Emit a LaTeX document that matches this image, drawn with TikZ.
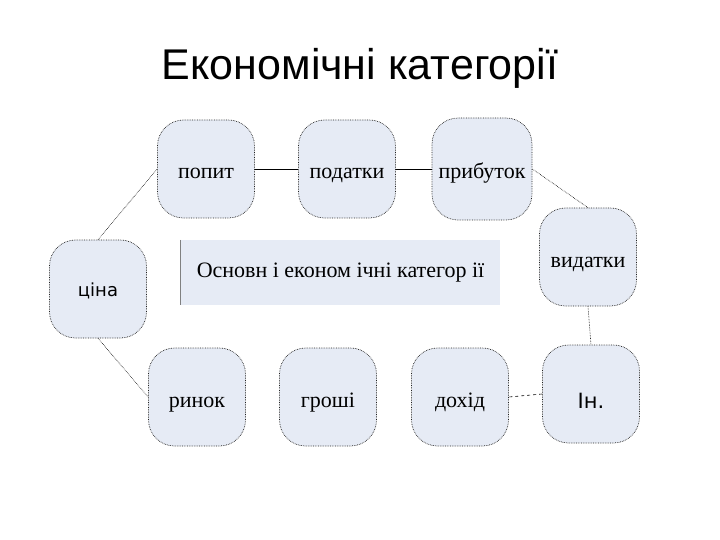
\documentclass[tikz,border=0pt]{standalone}
\usepackage{fontspec}
\setmainfont{Liberation Serif}
\newfontfamily\sansf{Liberation Sans}
\newfontfamily\dsans{DejaVu Sans}
\definecolor{boxfill}{HTML}{E6EBF5}
\definecolor{boxline}{HTML}{222222}
\begin{document}
\begin{tikzpicture}[x=1pt,y=-1pt,
  cat/.style={draw=boxline,densely dotted,line width=0.7pt,fill=boxfill,rounded corners=26pt,minimum width=97pt,minimum height=98pt,inner sep=0pt,font=\fontsize{22}{24}\selectfont,text=black,text height=21pt,text depth=1pt},
  solidlink/.style={draw=black,line width=0.8pt},
  dotlink/.style={draw=black,densely dotted,line width=0.6pt},
  dashlink/.style={draw=black,dashed,line width=0.6pt}]
\useasboundingbox (0,0) rectangle (720,540);
\node[font=\sansf\fontsize{43}{46}\selectfont] (title) at (360,68) {Економічні категорії};
\node[cat] (popyt) at (206,169) {попит};
\node[cat] (podatky) at (347,169) {податки};
\node[cat,minimum width=100pt,minimum height=102pt] (prybutok) at (482,169) {прибуток};
\node[cat] (vydatky) at (588,257) {видатки};
\node[cat,font=\dsans\fontsize{18}{20}\selectfont,text height=15pt,text depth=1pt] (tsina) at (98,289) {ціна};
\node[cat] (rynok) at (197,397) {ринок};
\node[cat] (groshi) at (328,397) {гроші};
\node[cat] (dokhid) at (460,397) {дохід};
\node[cat,font=\dsans\fontsize{21}{24}\selectfont,text height=28pt,text depth=0pt] (in) at (591,394) {Ін.};
\node[fill=boxfill,minimum width=319pt,minimum height=65pt,font=\fontsize{22}{24}\selectfont] (main) at (340.5,272.5) {Основн і економ ічні категор ії};
\draw[draw=gray,line width=0.8pt] (main.north west) -- (main.south west);
\draw[solidlink] (popyt) -- (podatky);
\draw[solidlink] (podatky) -- (prybutok);
\draw[dotlink] (prybutok.east) -- (vydatky.north);
\draw[dotlink] (vydatky.south) -- (in.north);
\draw[dashlink] (in.west) -- (dokhid.east);
\draw[dotlink] (tsina.north) -- (popyt.west);
\draw[dotlink] (tsina.south) -- (rynok.west);
\end{tikzpicture}
\end{document}
